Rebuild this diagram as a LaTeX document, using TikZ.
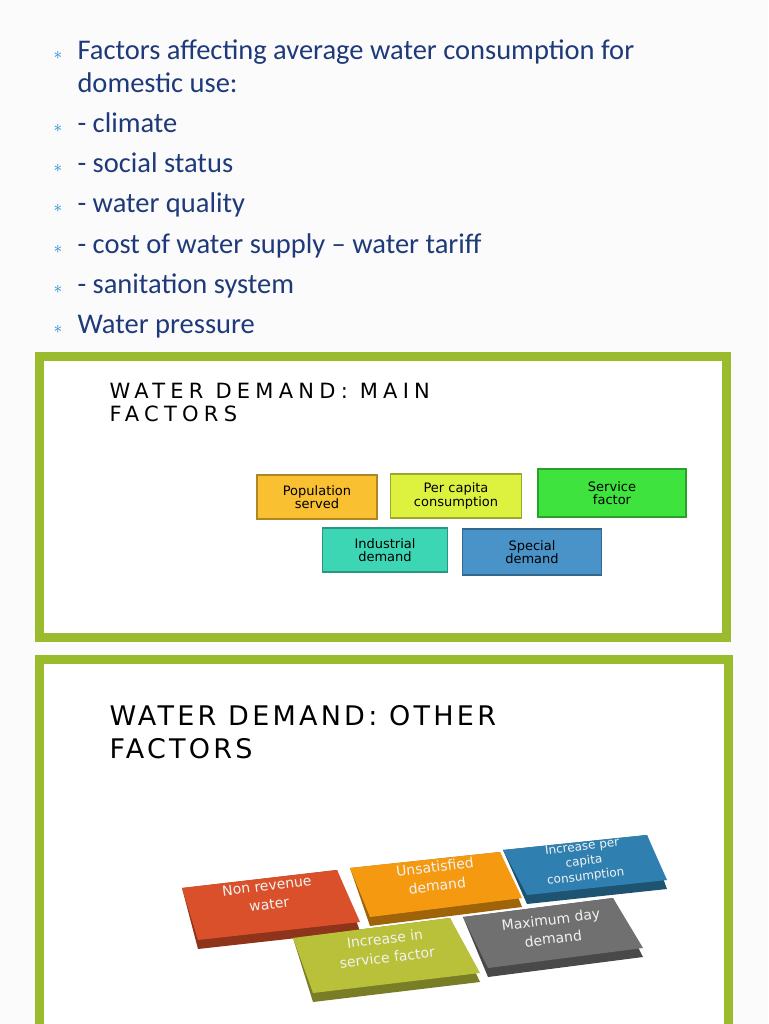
\documentclass[tikz,border=0pt]{standalone}
\usepackage{fontspec}
\setmainfont{Carlito}
\newfontfamily\titlefonta{DejaVu Sans}[LetterSpace=25]
\newfontfamily\titlefontb{DejaVu Sans}[LetterSpace=12]
\newfontfamily\boxfont{DejaVu Sans}
\begin{document}
\begin{tikzpicture}[x=1pt,y=-1pt,
  bul/.style={anchor=base west,font=\fontsize{28.5}{30}\selectfont},
  star/.style={anchor=base west,text=cyan!70!blue,font=\fontsize{18}{20}\selectfont},
  frame/.style={draw=fgreen,line width=9pt,fill=white},
  fbox/.style={draw=#1!70!black,line width=1.5pt,fill=#1,minimum height=44pt,align=center,font=\fontsize{13}{13.5}\selectfont\boxfont,inner sep=1pt},
  ftxt/.style={text=white!90!gray,align=center,rotate=7,font=\fontsize{14}{19}\selectfont\boxfont}]
\definecolor{fgreen}{HTML}{9BBB2F}
\useasboundingbox (0,0) rectangle (768,1024);
\fill[white!97!gray] (0,0) rectangle (768,1024);
\definecolor{tblue}{HTML}{1F3A7A}
\foreach \y/\t [count=\i] in {60/Factors affecting average water consumption for,
  133/- climate,173/- social status,213/- water quality,253/- cost of water supply -- water tariff,293/- sanitation system,333/Water pressure}{
  \node[star] (s\i) at (50,\y) {$\ast$};
  \node[bul,text=tblue] (b\i) at (74,\y) {\t};
}
\node[bul,text=tblue] (b1b) at (74,93) {domestic use:};
% slide 1
\draw[frame] (39.5,356.5) rectangle (726.5,637.5);
\node[anchor=north west,align=left,font=\fontsize{21}{23}\selectfont\titlefonta] (t1) at (106,380) {WATER DEMAND: MAIN\\FACTORS};
\definecolor{c1}{HTML}{F9C131}\definecolor{c2}{HTML}{DDF23F}\definecolor{c3}{HTML}{3EE33E}
\definecolor{c4}{HTML}{3DD6B4}\definecolor{c5}{HTML}{4A93C9}
\node[fbox=c1,minimum width=120pt] (p1) at (317,497) {Population\\served};
\node[fbox=c2,minimum width=131pt] (p2) at (456,496) {Per capita\\consumption};
\node[fbox=c3,minimum width=148pt,minimum height=48pt] (p3) at (612,493) {Service\\factor};
\node[fbox=c4,minimum width=125pt] (p4) at (385,550) {Industrial\\demand};
\node[fbox=c5,minimum width=139pt,minimum height=46pt] (p5) at (532,552) {Special\\demand};
% slide 2
\draw[frame] (39.5,659.5) rectangle (728.5,1040);
\node[anchor=north west,align=left,font=\fontsize{27}{33}\selectfont\titlefontb] (t2) at (106,702) {WATER DEMAND: OTHER\\FACTORS};
\definecolor{d1}{HTML}{D9502A}\definecolor{d2}{HTML}{F59A10}\definecolor{d3}{HTML}{2F80B0}
\definecolor{d4}{HTML}{B9C03A}\definecolor{d5}{HTML}{707070}
\foreach \c/\a/\b/\cc/\d in {d3/{503,850}/{647,835}/{667,880}/{527,895},
  d1/{182,888}/{337,870}/{360,922}/{198,940},
  d2/{350,868}/{500,852}/{522,898}/{370,917},
  d5/{463,917}/{613,898}/{643,948}/{488,968},
  d4/{293,938}/{450,918}/{480,973}/{313,993}}{
  \fill[\c!65!black] (\a) -- (\b) -- ([yshift=-9pt]\cc) -- ([yshift=-9pt]\d) -- cycle;
  \fill[\c] (\a) -- (\b) -- (\cc) -- (\d) -- cycle;
}
\node[ftxt] (q1) at (268,895) {Non revenue\\water};
\node[ftxt] (q2) at (436,876) {Unsatisfied\\demand};
\node[ftxt,font=\fontsize{12}{15}\selectfont\boxfont] (q3) at (584,862) {Increase per\\capita\\consumption};
\node[ftxt] (q4) at (386,948) {Increase in\\service factor};
\node[ftxt] (q5) at (552,929) {Maximum day\\demand};
\end{tikzpicture}
\end{document}
